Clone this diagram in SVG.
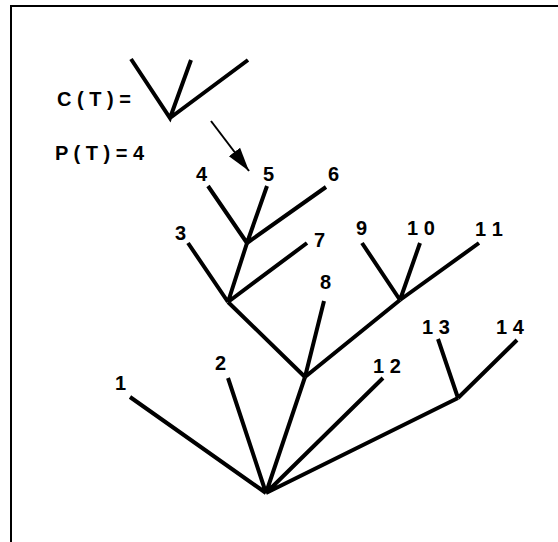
<svg xmlns="http://www.w3.org/2000/svg" width="558" height="542" viewBox="0 0 558 542">
<style>
.e{stroke:#000;stroke-width:4;stroke-linecap:butt;fill:none}
.t{font-family:"Liberation Sans",Arial,sans-serif;font-weight:bold;font-size:20px;fill:#000}
</style>
<defs>
<marker id="ah" markerUnits="userSpaceOnUse" markerWidth="26" markerHeight="16" refX="24" refY="8" orient="auto">
<path d="M0,1 L24,8 L0,15 Z" fill="#000"/>
</marker>
</defs>
<rect width="558" height="542" fill="#fff"/>
<rect x="11" y="6" width="600" height="600" fill="none" stroke="#000" stroke-width="2"/>
<g id="legend">
<text class="t" x="57" y="106" xml:space="preserve">C ( T ) =</text>
<text class="t" x="55" y="160" xml:space="preserve">P ( T ) = 4</text>
<path class="e" d="M131,59 L170,118 L191,60 M170,118 L248,60"/>
<line x1="211" y1="121" x2="249" y2="171" stroke="#000" stroke-width="2" marker-end="url(#ah)"/>
</g>
<g id="connectors">
<path class="e" d="M266,493 L130,397 M266,493 L228,378 M266,493 L305,377 M266,493 L383,378 M266,493 L458,398"/>
<path class="e" d="M458,398 L438,339 M458,398 L517,340"/>
<path class="e" d="M305,377 L324,301 M305,377 L228,302 M305,377 L400,300"/>
<path class="e" d="M400,300 L362,243 M400,300 L420,243 M400,300 L479,243"/>
<path class="e" d="M228,302 L188,243 M228,302 L247,243 M228,302 L307,243"/>
<path class="e" d="M247,243 L208,186 M247,243 L267,186 M247,243 L326,187"/>
</g>
<g id="n1"><text class="t" x="115" y="390">1</text></g>
<g id="n2"><text class="t" x="215" y="370">2</text></g>
<g id="n3"><text class="t" x="175" y="240">3</text></g>
<g id="n4"><text class="t" x="196" y="181">4</text></g>
<g id="n5"><text class="t" x="263" y="181">5</text></g>
<g id="n6"><text class="t" x="328" y="181">6</text></g>
<g id="n7"><text class="t" x="314" y="247">7</text></g>
<g id="n8"><text class="t" x="320" y="289">8</text></g>
<g id="n9"><text class="t" x="356" y="235">9</text></g>
<g id="n10"><text class="t" x="407" y="235" xml:space="preserve">1 0</text></g>
<g id="n11"><text class="t" x="475" y="236" xml:space="preserve">1 1</text></g>
<g id="n12"><text class="t" x="373" y="373" xml:space="preserve">1 2</text></g>
<g id="n13"><text class="t" x="422" y="334" xml:space="preserve">1 3</text></g>
<g id="n14"><text class="t" x="496" y="334" xml:space="preserve">1 4</text></g>
</svg>
